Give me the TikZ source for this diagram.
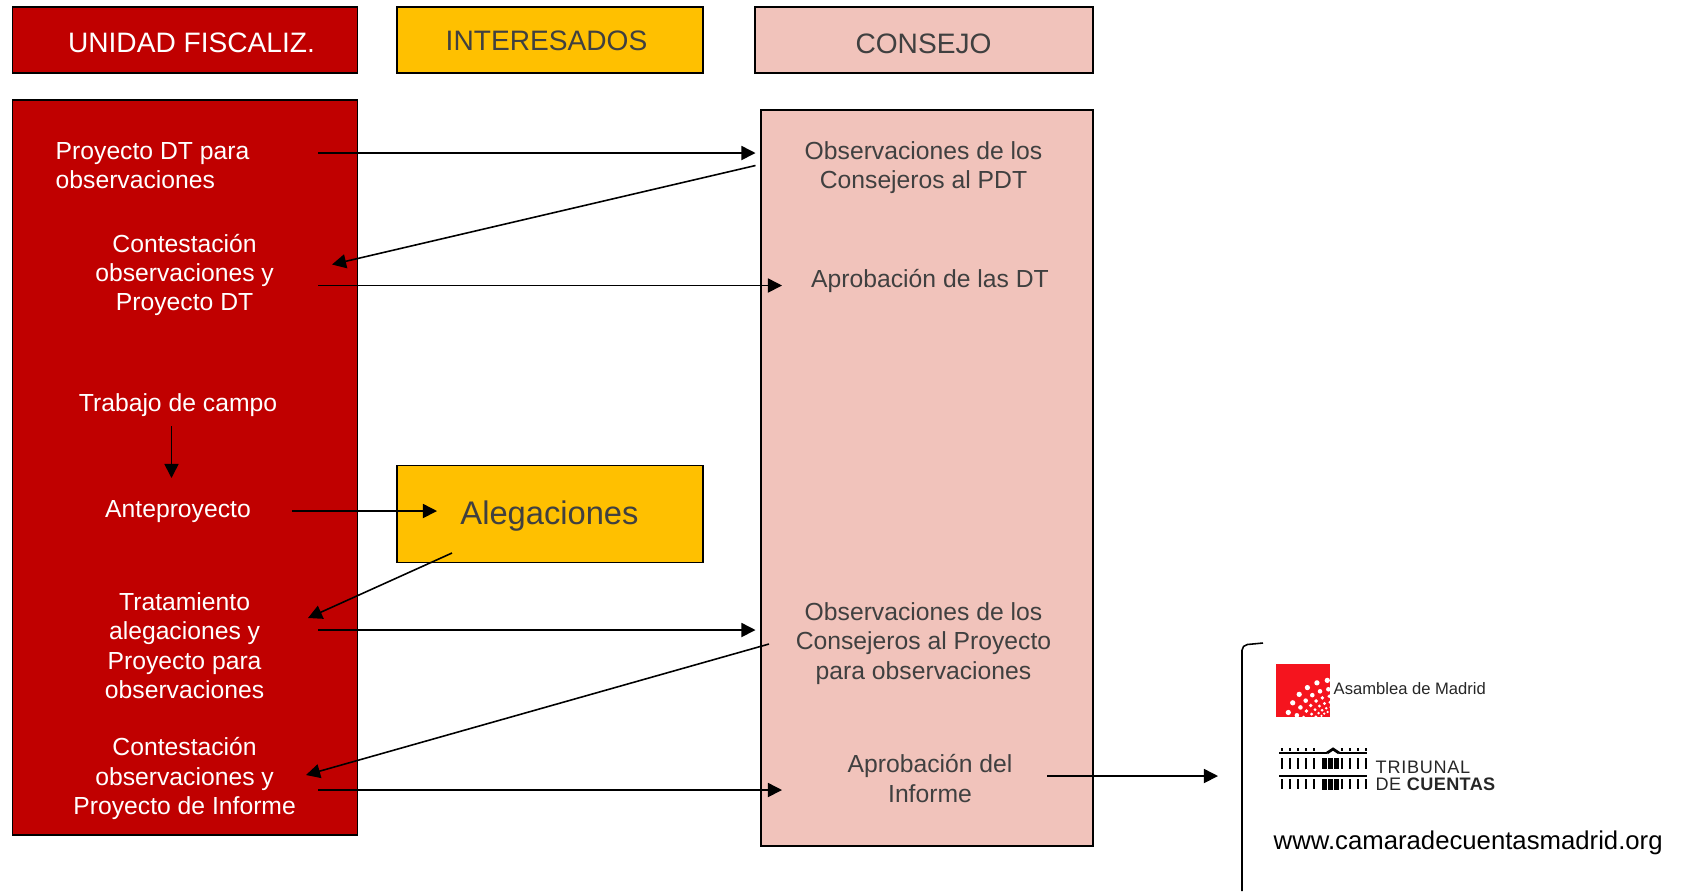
\documentclass[tikz,border=0pt]{standalone}
\usepackage{fontspec}
\setmainfont{Liberation Sans}
\usetikzlibrary{arrows.meta}
\definecolor{unidadred}{HTML}{C00000}
\definecolor{interyellow}{HTML}{FFC000}
\definecolor{consejopink}{HTML}{F1C3BB}
\definecolor{darktext}{HTML}{404040}
\definecolor{asamblearred}{HTML}{F5141E}
\begin{document}
\begin{tikzpicture}
[
  box/.style={draw=black,line width=0.45pt,inner sep=0pt,minimum width=#1},
  unidad/.style={text=white,font=\fontsize{7.03}{8.35}\selectfont,align=center,inner sep=0pt},
  consejo/.style={text=darktext,font=\fontsize{7.03}{8.35}\selectfont,align=center,inner sep=0pt},
  heading/.style={font=\fontsize{8.0}{9}\selectfont,inner sep=0pt},
  flow/.style={line width=0.45pt,-{Triangle[length=4pt,width=4pt]}}
]
\useasboundingbox (0,0) rectangle (16.83,-8.91);

% headings
\node (unidadhead) [box=3.45cm,fill=unidadred,minimum height=0.66cm] at (1.85,-0.40) {};
\node (interhead) [box=3.06cm,fill=interyellow,minimum height=0.66cm] at (5.50,-0.40) {};
\node (consejohead) [box=3.38cm,fill=consejopink,minimum height=0.66cm] at (9.24,-0.40) {};
\node (unidadtitle) [heading,text=white] at (1.915,-0.43) {UNIDAD FISCALIZ.};
\node (intertitle) [heading,text=darktext] at (5.465,-0.41) {INTERESADOS};
\node (consejotitle) [heading,text=darktext] at (9.235,-0.44) {CONSEJO};

% columns
\node (unidadcol) [box=3.45cm,fill=unidadred,minimum height=7.35cm] at (1.85,-4.675) {};
\node (consejocol) [box=3.32cm,fill=consejopink,minimum height=7.36cm] at (9.27,-4.78) {};
\node (alegbox) [box=3.06cm,fill=interyellow,minimum height=0.97cm] at (5.50,-5.14) {};
\node (aleg) [text=darktext,font=\fontsize{9.3}{11}\selectfont,inner sep=0pt] at (5.495,-5.16) {Alegaciones};

% unidad fiscalizadora
\node (proyecto) [unidad,align=left,anchor=west] at (0.55,-1.655) {Proyecto DT para\\observaciones};
\node (contesta) [unidad] at (1.846,-2.75) {Contestación\\observaciones y\\Proyecto DT};
\node (campo) [unidad] at (1.78,-4.05) {Trabajo de campo};
\node (ante) [unidad] at (1.78,-5.115) {Anteproyecto};
\node (trata) [unidad] at (1.846,-6.455) {Tratamiento\\alegaciones y\\Proyecto para\\observaciones};
\node (informe) [unidad] at (1.846,-7.785) {Contestación\\observaciones y\\Proyecto de Informe};

% consejo
\node (obspdt) [consejo] at (9.235,-1.675) {Observaciones de los\\Consejeros al PDT};
\node (aprobdt) [consejo] at (9.30,-2.81) {Aprobación de las DT};
\node (obsproy) [consejo] at (9.235,-6.435) {Observaciones de los\\Consejeros al Proyecto\\para observaciones};
\node (aprobinf) [consejo] at (9.30,-7.785) {Aprobación del\\Informe};

% arrow ends
\coordinate (a1) at (3.18,-1.53);
\coordinate (a2) at (7.555,-1.53);
\coordinate (b1) at (7.555,-1.655);
\coordinate (b2) at (3.32,-2.645);
\coordinate (c1) at (3.18,-2.855);
\coordinate (c2) at (7.82,-2.855);
\coordinate (d1) at (1.715,-4.26);
\coordinate (d2) at (1.715,-4.78);
\coordinate (e1) at (2.92,-5.11);
\coordinate (e2) at (4.37,-5.11);
\coordinate (f1) at (4.52,-5.53);
\coordinate (f2) at (3.08,-6.18);
\coordinate (g1) at (3.18,-6.30);
\coordinate (g2) at (7.555,-6.30);
\coordinate (h1) at (7.69,-6.44);
\coordinate (h2) at (3.06,-7.75);
\coordinate (i1) at (3.18,-7.90);
\coordinate (i2) at (7.82,-7.90);
\coordinate (j1) at (10.47,-7.76);
\coordinate (j2) at (12.18,-7.76);

\draw[flow] (a1) -- (a2);
\draw[flow] (b1) -- (b2);
\draw[flow] (c1) -- (c2);
\draw[flow] (d1) -- (d2);
\draw[flow] (e1) -- (e2);
\draw[flow] (f1) -- (f2);
\draw[flow] (g1) -- (g2);
\draw[flow] (h1) -- (h2);
\draw[flow] (i1) -- (i2);
\draw[flow] (j1) -- (j2);

% bracket
\draw[line width=0.45pt,rounded corners=1.5pt] (12.63,-6.43) -- (12.42,-6.45) -- (12.42,-8.91);

% asamblea logo
\fill[asamblearred] (12.76,-6.64) rectangle (13.30,-7.17);
\begin{scope}
\clip (12.76,-6.64) rectangle (13.30,-7.17);
\foreach \r/\n/\d in {0.16/6/0.35pt,0.20/6/0.4pt,0.25/6/0.45pt,0.31/6/0.55pt,0.38/6/0.65pt,0.47/6/0.75pt}
  \foreach \i in {0,...,\n}
    \fill[white] (13.33,-7.27) ++({97+78*\i/\n}:\r) circle[radius=\d];
\end{scope}
\node (asamblea) [anchor=west,inner sep=0pt,text=black!85,font=\fontsize{4.72}{6}\selectfont] at (13.33,-6.89) {Asamblea de Madrid};

% tribunal logo
\draw[line width=0.8pt] (12.79,-7.53) -- (13.27,-7.53) (13.39,-7.53) -- (13.67,-7.53);
\draw[line width=0.8pt] (13.27,-7.53) -- (13.33,-7.49) -- (13.39,-7.53);
\draw[line width=0.8pt] (12.79,-7.76) -- (13.67,-7.76);
\foreach \x in {12.82,12.90,12.98,13.06,13.14,13.50,13.58,13.66,13.42}{
  \fill (\x-0.012,-7.58) rectangle (\x+0.012,-7.69);
  \fill (\x-0.012,-7.79) rectangle (\x+0.012,-7.89);
}
\foreach \x in {13.24,13.30,13.36}{
  \fill (\x-0.025,-7.58) rectangle (\x+0.025,-7.69);
  \fill (\x-0.025,-7.79) rectangle (\x+0.025,-7.90);
}
\foreach \x in {12.82,12.90,12.98,13.06,13.14,13.42,13.50,13.58,13.66}
  \fill (\x-0.012,-7.48) rectangle (\x+0.012,-7.51);
\node (tribunal) [anchor=west,inner sep=0pt,text=black!85,font=\fontsize{5.15}{6}\selectfont\addfontfeature{LetterSpace=4}] at (13.75,-7.67) {TRIBUNAL};
\node (cuentas) [anchor=west,inner sep=0pt,text=black!85,font=\fontsize{5.15}{6}\selectfont\addfontfeature{LetterSpace=2}] at (13.75,-7.84) {DE \textbf{CUENTAS}};

% web
\node (web) [anchor=west,inner sep=0pt,text=black,font=\fontsize{7.32}{8}\selectfont] at (12.73,-8.43) {www.camaradecuentasmadrid.org};

\end{tikzpicture}
\end{document}
